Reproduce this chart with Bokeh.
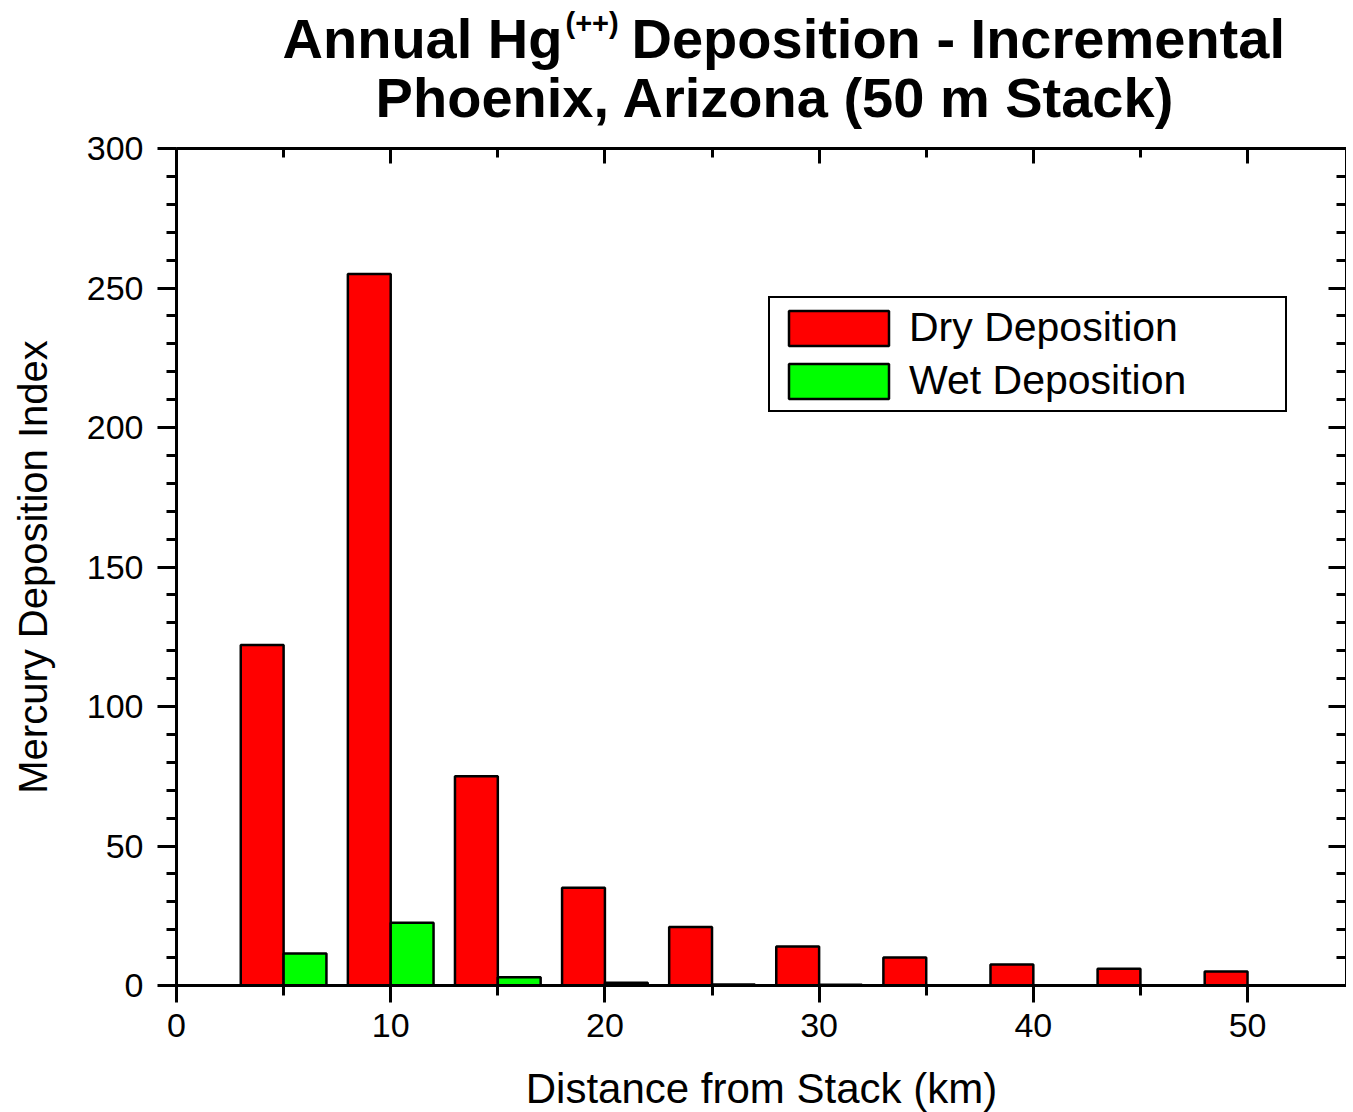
from bokeh.plotting import figure
from bokeh.layouts import column
from bokeh.models import (ColumnDataSource, Range1d, LinearAxis, FixedTicker, Legend,
                          LegendItem, Label)
from bokeh.transform import dodge
from bokeh.embed import file_html
from bokeh.resources import INLINE

# ---- data ----
distance_km = [5, 10, 15, 20, 25, 30, 35, 40, 45, 50]
dry_deposition = [122, 255, 75, 35, 21, 14, 10, 7.5, 6, 5]
wet_deposition = [11.5, 22.5, 3.0, 1.0, 0.4, 0.3, 0.0, 0.0, 0.0, 0.0]
x_ticks = [0, 10, 20, 30, 40, 50]
y_ticks = [0, 50, 100, 150, 200, 250, 300]

FONT = "Liberation Sans"
FW = 1170
TW = 1340
TH = 130

# ---- title strip (its own small svg figure) ----
tf = figure(frame_width=TW, frame_height=TH, output_backend="svg", toolbar_location=None,
            x_range=Range1d(0, TW), y_range=Range1d(0, TH),
            min_border=0, x_axis_type=None, y_axis_type=None)
tf.outline_line_color = None
tf.xgrid.visible = False
tf.ygrid.visible = False
tcommon = dict(text_font=FONT, text_font_style="bold", text_color="black",
               text_baseline="alphabetic")
tf.add_layout(Label(x=386, y=92, text="Annual Hg", text_align="right",
                    text_font_size="56px", **tcommon))
tf.add_layout(Label(x=389, y=108, text="(++)", text_align="left",
                    text_font_size="29px", **tcommon))
tf.add_layout(Label(x=455, y=92, text="Deposition - Incremental", text_align="left",
                    text_font_size="56px", **tcommon))
tf.add_layout(Label(x=599, y=33, text="Phoenix, Arizona (50 m Stack)", text_align="center",
                    text_font_size="56px", **tcommon))

# ---- main chart ----
src = ColumnDataSource(dict(x=distance_km, dry=dry_deposition, wet=wet_deposition))

p = figure(frame_width=FW, frame_height=837, output_backend="svg", toolbar_location=None,
           x_range=Range1d(0, 54.62), y_range=Range1d(0, 300),
           min_border_left=176, min_border_top=18, min_border_bottom=100, min_border_right=0,
           x_axis_type=None, y_axis_type=None)
p.outline_line_color = None
p.background_fill_color = "white"
p.border_fill_color = "white"

xt = FixedTicker(ticks=x_ticks, minor_ticks=[5, 15, 25, 35, 45])
yt = FixedTicker(ticks=y_ticks, minor_ticks=[v for v in range(0, 301, 10)])

def style(ax):
    ax.axis_line_width = 3
    ax.axis_line_color = "black"
    ax.major_tick_line_width = 3
    ax.minor_tick_line_width = 3
    ax.major_tick_line_color = "black"
    ax.minor_tick_line_color = "black"
    ax.major_label_text_font = FONT
    ax.major_label_text_color = "black"
    ax.axis_label_text_font = FONT
    ax.axis_label_text_font_style = "normal"
    ax.axis_label_text_color = "black"

bottom = LinearAxis(ticker=xt, axis_label="Distance from Stack (km)")
style(bottom)
bottom.major_tick_in = 0; bottom.major_tick_out = 17
bottom.minor_tick_in = 0; bottom.minor_tick_out = 10
bottom.major_label_text_font_size = "34px"
bottom.major_label_standoff = 11
bottom.axis_label_text_font_size = "42px"
bottom.axis_label_standoff = 25
p.add_layout(bottom, "below")

left = LinearAxis(ticker=yt, axis_label="Mercury Deposition Index")
style(left)
left.major_tick_in = 0; left.major_tick_out = 19
left.minor_tick_in = 0; left.minor_tick_out = 10
left.major_label_text_font_size = "34px"
left.major_label_standoff = 14
left.axis_label_text_font_size = "40px"
left.axis_label_standoff = 29
p.add_layout(left, "left")

top = LinearAxis(ticker=xt)
style(top)
top.major_tick_in = 15; top.major_tick_out = 0
top.minor_tick_in = 9; top.minor_tick_out = 0
top.major_label_text_font_size = "1px"
top.major_label_text_color = None
top.major_label_standoff = 0
p.add_layout(top, "above")

right = LinearAxis(ticker=yt)
style(right)
right.major_tick_in = 18; right.major_tick_out = 0
right.minor_tick_in = 10; right.minor_tick_out = 0
right.major_label_text_font_size = "1px"
right.major_label_text_color = None
right.major_label_standoff = 0
p.add_layout(right, "right")

p.xgrid.visible = False
p.ygrid.ticker = FixedTicker(ticks=[50, 100, 150, 200, 250])
p.ygrid.grid_line_color = "#2b2bc8"
p.ygrid.grid_line_width = 1

r_dry = p.vbar(x=dodge("x", -1, range=p.x_range), top="dry", width=2, source=src,
               fill_color="#ff0000", line_color="black", line_width=2.5)
r_wet = p.vbar(x=dodge("x", 1, range=p.x_range), top="wet", width=2, source=src,
               fill_color="#00ff00", line_color="black", line_width=2.5)

legend = Legend(items=[LegendItem(label="Dry Deposition", renderers=[r_dry]),
                       LegendItem(label="Wet Deposition", renderers=[r_wet])],
                location=(592, 573), margin=0, padding=6, spacing=6,
                glyph_width=125, glyph_height=44, label_standoff=8, label_width=370,
                label_height=44,
                label_text_font=FONT, label_text_font_size="41px", label_text_color="black",
                border_line_color="black", border_line_width=2, border_line_alpha=1,
                background_fill_color="white", background_fill_alpha=1)
p.add_layout(legend, "center")

layout = column(tf, p, spacing=0)
open("out.html", "w").write(file_html(layout, INLINE))
